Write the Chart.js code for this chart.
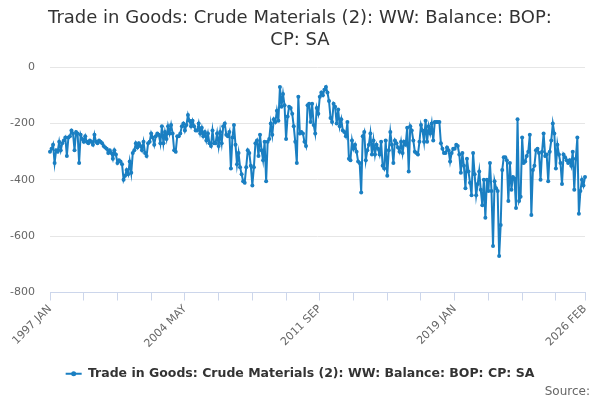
<!DOCTYPE html>
<html><head><meta charset="utf-8">
<script src="https://cdn.jsdelivr.net/npm/chart.js@4.4.1/dist/chart.umd.min.js"></script>
<style>html,body{margin:0;padding:0;background:#fff}#wrap{width:600px;height:400px;position:relative}
#src{position:absolute;right:10px;top:384px;font:12px 'DejaVu Sans',sans-serif;line-height:14px;color:#666}</style>
</head><body><div id="wrap"><canvas id="c"></canvas><div id="src">Source:</div></div>
<script>
const years = [1997,1998,1999,2000,2001,2002,2003,2004,2005,2006,2007,2008,2009,2010,2011,2012,2013,2014,2015,2016,2017,2018,2019,2020,2021,2022,2023,2024,2025,2026];
const months = ['JAN','FEB','MAR','APR','MAY','JUN','JUL','AUG','SEP','OCT','NOV','DEC'];
const tickLabels = ['1997 JAN','2004 MAY','2011 SEP','2019 JAN','2026 FEB'];
const yTicks = [0,-200,-400,-600,-800];

const v1997 = [-300,-290,-275,-340,-295,-300,-265,-295,-270,-260,-250,-315];
const v1998 = [-250,-245,-225,-235,-295,-230,-235,-340,-240,-255,-265,-245];
const v1999 = [-265,-270,-260,-265,-275,-240,-265,-270,-260,-265,-270,-280];
const v2000 = [-285,-290,-305,-295,-305,-325,-295,-310,-340,-330,-335,-345];
const v2001 = [-400,-385,-365,-380,-335,-375,-305,-295,-270,-285,-270,-280];
const v2002 = [-295,-265,-305,-315,-270,-265,-235,-250,-275,-245,-235,-240];
const v2003 = [-270,-210,-270,-230,-255,-210,-235,-205,-235,-295,-300,-245];
const v2004 = [-245,-235,-210,-200,-225,-205,-170,-190,-210,-190,-210,-225];
const v2005 = [-225,-200,-235,-215,-245,-230,-260,-235,-270,-280,-225,-270];
const v2006 = [-270,-235,-280,-230,-270,-210,-200,-240,-245,-230,-360,-250];
const v2007 = [-205,-275,-345,-305,-355,-380,-405,-410,-355,-295,-305,-350];
const v2008 = [-420,-355,-270,-260,-315,-240,-295,-330,-265,-405,-265,-255];
const v2009 = [-200,-240,-185,-195,-155,-190,-70,-140,-95,-135,-255,-175];
const v2010 = [-140,-145,-165,-210,-265,-340,-105,-235,-230,-235,-265,-280];
const v2011 = [-135,-130,-195,-130,-205,-235,-145,-165,-105,-90,-100,-80];
const v2012 = [-70,-90,-120,-180,-195,-130,-140,-200,-150,-210,-185,-225];
const v2013 = [-230,-245,-195,-325,-330,-260,-290,-275,-300,-335,-340,-445];
const v2014 = [-245,-230,-330,-295,-275,-235,-310,-260,-310,-275,-290,-310];
const v2015 = [-265,-350,-360,-260,-385,-295,-230,-275,-340,-260,-270,-285];
const v2016 = [-300,-265,-305,-265,-275,-215,-370,-210,-225,-260,-300,-305];
const v2017 = [-310,-265,-205,-225,-265,-190,-265,-210,-235,-200,-260,-195];
const v2018 = [-195,-195,-195,-270,-290,-305,-305,-285,-295,-335,-305,-290];
const v2019 = [-290,-275,-280,-310,-375,-305,-350,-430,-325,-370,-410,-455];
const v2020 = [-305,-380,-455,-415,-370,-435,-490,-400,-535,-400,-440,-340];
const v2021 = [-440,-635,-405,-430,-440,-670,-560,-365,-320,-320,-330,-475];
const v2022 = [-340,-435,-390,-395,-500,-185,-475,-460,-250,-340,-335,-315];
const v2023 = [-300,-240,-525,-365,-350,-295,-290,-305,-400,-300,-235,-315];
const v2024 = [-310,-405,-300,-260,-200,-235,-360,-275,-310,-340,-415,-310];
const v2025 = [-320,-330,-340,-330,-350,-300,-435,-325,-250,-520,-440,-400];
const v2026 = [-420,-390];

const values = [].concat(v1997,v1998,v1999,v2000,v2001,v2002,v2003,v2004,v2005,v2006,v2007,v2008,v2009,v2010,v2011,v2012,v2013,v2014,v2015,v2016,v2017,v2018,v2019,v2020,v2021,v2022,v2023,v2024,v2025,v2026);
const labels = [];
years.forEach(y => months.forEach(m => { if (labels.length < values.length) labels.push(y + ' ' + m); }));

const blue = '#1a7fc2';
Chart.defaults.font.family = "'DejaVu Sans', sans-serif";

const legendDot = {
  id: 'legendDot',
  afterDraw(chart) {
    const lg = chart.legend;
    if (!lg || !lg.legendHitBoxes || !lg.legendHitBoxes.length) return;
    const hb = lg.legendHitBoxes[0];
    const ctx = chart.ctx;
    ctx.save();
    ctx.fillStyle = blue;
    ctx.beginPath();
    ctx.arc(hb.left + 8, hb.top + hb.height / 2, 2.5, 0, Math.PI * 2);
    ctx.fill();
    ctx.restore();
  }
};

new Chart(document.getElementById('c'), {
  type: 'line',
  data: {
    labels: labels,
    datasets: [{
      label: 'Trade in Goods: Crude Materials (2): WW: Balance: BOP: CP: SA',
      data: values,
      borderColor: blue,
      backgroundColor: blue,
      borderWidth: 2,
      pointRadius: 2,
      pointBorderWidth: 0,
      pointBackgroundColor: blue,
      tension: 0,
      yAxisID: 'y'
    }]
  },
  plugins: [legendDot],
  options: {
    responsive: true,
    maintainAspectRatio: false,
    animation: false,
    layout: { padding: { left: 0, right: 0, top: 0, bottom: 10 } },
    plugins: {
      title: {
        display: true,
        text: ['Trade in Goods: Crude Materials (2): WW: Balance: BOP:', 'CP: SA'],
        color: '#333',
        font: { size: 18, weight: 'normal', lineHeight: 1.2 },
        padding: { top: 8, bottom: 16 }
      },
      legend: {
        position: 'bottom',
        labels: {
          usePointStyle: true,
          pointStyle: 'line',
          pointStyleWidth: 16,
          boxHeight: 12,
          color: '#333',
          font: { size: 12.5, weight: 'bold' },
          padding: 6,
          generateLabels: (chart) => Chart.defaults.plugins.legend.labels.generateLabels(chart)
            .map(l => Object.assign(l, { lineWidth: 2, strokeStyle: blue }))
        }
      },
      tooltip: { enabled: false }
    },
    scales: {
      x: {
        type: 'category',
        offset: false,
        afterBuildTicks: (scale) => {
          scale.ticks = scale.ticks.filter(t => t.value % 22 === 0 || t.value === labels.length - 1);
        },
        afterFit: (scale) => { scale.height = 69; },
        ticks: {
          autoSkip: false,
          maxRotation: 45,
          minRotation: 45,
          color: '#666',
          font: { size: 11 },
          padding: 2,
          callback: function (value) {
            const l = this.getLabelForValue(value);
            return tickLabels.includes(l) ? l : '';
          }
        },
        grid: { drawOnChartArea: false, drawTicks: true, tickLength: 8, color: '#ccd6eb' },
        border: { color: '#ccd6eb' }
      },
      y: {
        min: -800,
        max: 0,
        afterBuildTicks: (scale) => { scale.ticks = yTicks.map(v => ({ value: v })); },
        afterFit: (scale) => { scale.width = 50; },
        ticks: { color: '#666', font: { size: 11 }, padding: 15 },
        grid: { color: '#e6e6e6', drawTicks: false },
        border: { display: false }
      },
      yRight: {
        position: 'right',
        display: true,
        min: 0,
        max: 1,
        afterFit: (scale) => { scale.width = 15; },
        ticks: { display: false },
        grid: { display: false, drawTicks: false },
        border: { display: false }
      }
    }
  }
});
</script>
</body></html>
